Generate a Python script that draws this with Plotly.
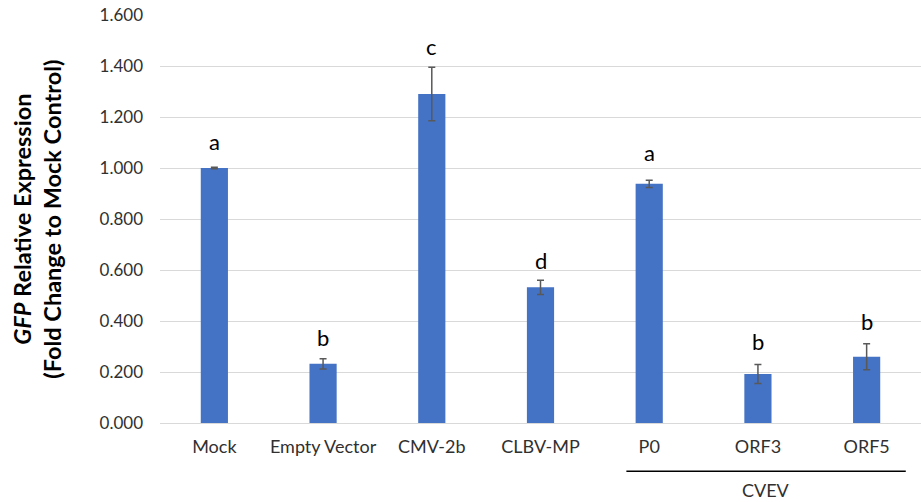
import plotly.graph_objects as go

# Relative GFP expression per construct (fold change vs. mock)
categories = ["Mock", "Empty Vector", "CMV-2b", "CLBV-MP", "P0", "ORF3", "ORF5"]
expression = [1.000, 0.232, 1.290, 0.532, 0.938, 0.192, 0.260]
std_error = [0.003, 0.020, 0.105, 0.028, 0.014, 0.037, 0.051]
group_letters = ["a", "b", "c", "d", "a", "b", "b"]
letter_heights = [1.102, 0.337, 1.475, 0.639, 1.059, 0.318, 0.400]
y_ticks = [0.0, 0.2, 0.4, 0.6, 0.8, 1.0, 1.2, 1.4, 1.6]

FONT = "Lato"
BAR_BLUE = "#4472C4"
TEXT_GREY = "#303030"

fig = go.Figure()
fig.add_trace(go.Bar(
    x=categories,
    y=expression,
    marker=dict(color=BAR_BLUE, line=dict(width=0)),
    error_y=dict(type="data", array=std_error, visible=True,
                 color="#595959", thickness=1.5, width=3.5),
    showlegend=False,
))

# significance-group letters above each bar
for cat, letter, h in zip(categories, group_letters, letter_heights):
    fig.add_annotation(x=cat, y=h, text=letter, showarrow=False,
                       xref="x", yref="y", yanchor="middle",
                       font=dict(family=FONT, size=22, color="#000000"))

# y-axis title (two lines, GFP in italics)
fig.add_annotation(
    x=-0.162, y=0.5, xref="paper", yref="paper",
    text="<b><i>GFP</i> Relative Expression<br>(Fold Change to Mock Control)</b>",
    textangle=-90, showarrow=False, xanchor="center", yanchor="middle",
    font=dict(family=FONT, size=23.5, color="#000000"),
)

# bracket grouping the CVEV constructs
fig.add_shape(type="line", xref="x", yref="paper",
              x0=3.79, x1=6.36, y0=-0.118, y1=-0.118,
              line=dict(color="#000000", width=1.5))
fig.add_annotation(x=(3.79 + 6.36) / 2, y=-0.164, xref="x", yref="paper",
                   text="CVEV", showarrow=False, yanchor="middle",
                   font=dict(family=FONT, size=18, color=TEXT_GREY))

fig.update_layout(
    width=921, height=502,
    margin=dict(l=160, r=0, t=15, b=79),
    plot_bgcolor="white", paper_bgcolor="white",
    bargap=0.75,
    font=dict(family=FONT, size=18, color=TEXT_GREY),
)
fig.update_xaxes(
    showline=False, showgrid=False, ticks="", zeroline=False,
    tickfont=dict(family=FONT, size=18, color=TEXT_GREY),
    ticklabelstandoff=11,
)
fig.update_yaxes(
    range=[0, 1.6], tickvals=y_ticks, tickformat=".3f",
    showgrid=True, gridcolor="#d9d9d9", gridwidth=1,
    zeroline=True, zerolinecolor="#d9d9d9", zerolinewidth=1,
    showline=False, ticks="",
    tickfont=dict(family=FONT, size=17, color=TEXT_GREY),
    ticklabelstandoff=16,
)

fig.write_html("out.html")
